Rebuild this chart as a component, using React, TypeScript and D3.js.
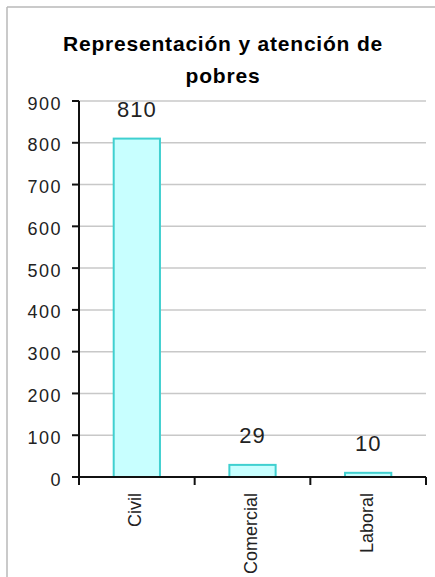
import React from "react";
import * as d3 from "d3";

const categories = ["Civil", "Comercial", "Laboral"];
const values = [810, 29, 10];
const yTicks = [0, 100, 200, 300, 400, 500, 600, 700, 800, 900];
const titleLines = ["Representación y atención de", "pobres"];

export default function App() {
  const W = 435;
  const H = 577;
  const x0 = 79;
  const x1 = 426;
  const yBase = 477;
  const yTop = 101;

  const x = d3.scaleBand<string>().domain(categories).range([x0, x1]).padding(0);
  const y = d3.scaleLinear().domain([0, 900]).range([yBase, yTop]);
  const barW = x.bandwidth() * 0.4;
  const font = "'Liberation Sans', Arial, sans-serif";

  return (
    <svg
      width={W}
      height={H}
      style={{ position: "absolute", left: 0, top: 0, background: "#fff" }}
    >
      {/* frame */}
      <line x1={7} y1={7} x2={W} y2={7} stroke="#b8b8b8" strokeWidth={1.5} />
      <line x1={7} y1={7} x2={7} y2={H} stroke="#b8b8b8" strokeWidth={1.5} />

      {/* title */}
      {titleLines.map((t, i) => (
        <text
          key={i}
          x={223}
          y={51 + i * 32}
          textAnchor="middle"
          fontFamily={font}
          fontWeight="bold"
          fontSize={21}
          letterSpacing={0.8}
          fill="#000"
        >
          {t}
        </text>
      ))}

      {/* gridlines */}
      {yTicks.filter((t) => t > 0).map((t) => (
        <line
          key={t}
          x1={x0}
          x2={x1}
          y1={y(t)}
          y2={y(t)}
          stroke="#c8c8c8"
          strokeWidth={1.5}
        />
      ))}

      {/* bars */}
      {categories.map((c, i) => {
        const cx = (x(c) as number) + x.bandwidth() / 2;
        return (
          <rect
            key={c}
            x={cx - barW / 2}
            y={y(values[i])}
            width={barW}
            height={yBase - y(values[i])}
            fill="#c8ffff"
            stroke="#40d0d0"
            strokeWidth={2}
          />
        );
      })}

      {/* data labels */}
      {categories.map((c, i) => {
        const cx = (x(c) as number) + x.bandwidth() / 2;
        return (
          <text
            key={c}
            x={cx}
            y={y(values[i]) - 21.5}
            textAnchor="middle"
            fontFamily={font}
            fontSize={22}
            letterSpacing={1}
            fill="#222"
          >
            {values[i]}
          </text>
        );
      })}

      {/* y axis */}
      <line x1={x0} x2={x0} y1={yTop} y2={yBase} stroke="#111" strokeWidth={2} />
      {yTicks.map((t) => (
        <g key={t}>
          <line x1={x0 - 7} x2={x0} y1={y(t)} y2={y(t)} stroke="#111" strokeWidth={2} />
          <text
            x={62}
            y={y(t) + 8.5}
            textAnchor="end"
            fontFamily={font}
            fontSize={18}
            letterSpacing={1.5}
            fill="#222"
          >
            {t}
          </text>
        </g>
      ))}

      {/* x axis */}
      <line x1={x0} x2={x1} y1={yBase} y2={yBase} stroke="#111" strokeWidth={2} />
      {[x0, ...categories.map((c) => (x(c) as number) + x.bandwidth())].map((px, i) => (
        <line key={i} x1={px} x2={px} y1={yBase} y2={yBase + 8} stroke="#111" strokeWidth={2} />
      ))}
      {categories.map((c) => {
        const cx = (x(c) as number) + x.bandwidth() / 2 - 2;
        return (
          <text
            key={c}
            transform={`translate(${cx + 6.5},493) rotate(-90)`}
            textAnchor="end"
            fontFamily={font}
            fontSize={18}
            fill="#222"
          >
            {c}
          </text>
        );
      })}
    </svg>
  );
}
